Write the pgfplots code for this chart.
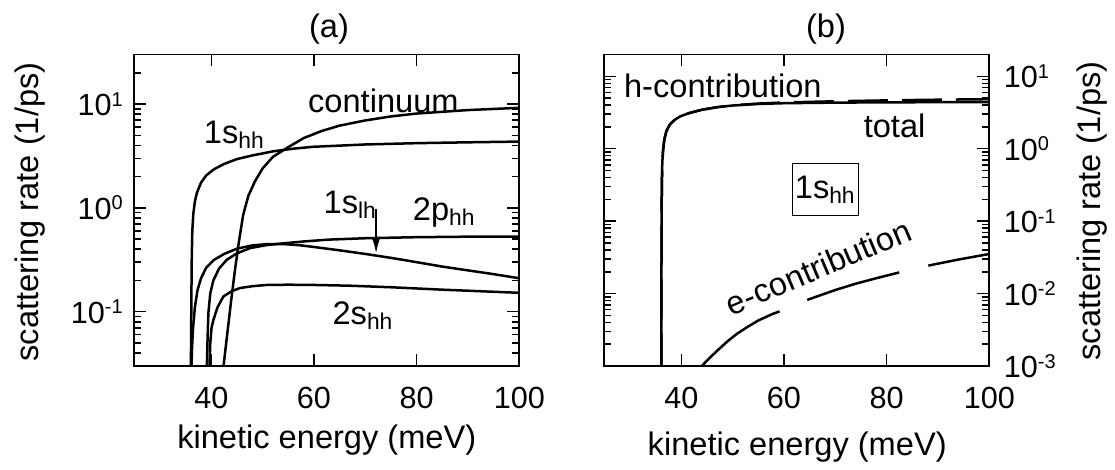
\documentclass[border=0pt]{standalone}
\usepackage{fontspec}
\setmainfont{Liberation Sans}
\usepackage{pgfplots}
\pgfplotsset{compat=1.18}
\usetikzlibrary{arrows.meta}

\newcommand{\chartfont}{\fontsize{16.3}{19.5}\selectfont}
\newcommand{\tickfont}{\fontsize{15.3}{18}\selectfont}
% small raised exponent, roughly top-aligned with the digits
\newcommand{\pw}[1]{10\raisebox{0.31em}{\fontsize{10}{10}\selectfont #1}}

\pgfplotsset{
  rate axis/.style={
    scale only axis, width=192.5pt, height=155.75pt,
    xmin=25, xmax=100,
    xtick={40,60,80,100}, xticklabels={40,60,80,100},
    axis line style={line width=0.9pt},
    major tick length=6pt, minor tick length=3.5pt,
    every tick/.style={line width=0.75pt, black},
    tick label style={font=\tickfont},
    xticklabel style={yshift=-6.9pt},
    no markers,
    cycle list={{black}},
    every axis plot/.append style={line width=1.25pt, black, line join=round},
  }
}

\begin{document}
\begin{tikzpicture}[font=\chartfont]
\useasboundingbox (0,0) rectangle (557.5pt,235pt);

% ---------------- (a) exciton channels ----------------
\begin{semilogyaxis}[rate axis, at={(67.15pt,52pt)}, anchor=south west,
  ymin=0.03, ymax=30,
  ytick={0.1,1,10},
  minor ytick={0.03,0.04,0.05,0.06,0.07,0.08,0.09,0.2,0.3,0.4,0.5,0.6,0.7,0.8,0.9,2,3,4,5,6,7,8,9,20},
  yticklabels={\pw{-1},\pw{0},\pw{1}},
  yticklabel style={xshift=-2.25pt}]
% 1s_hh
\addplot coordinates {(36.0,0.02) (36.1,0.1) (36.18,0.3) (36.3,0.6) (36.5,0.88) (36.8,1.15) (37.2,1.4) (38,1.75) (39,2.05) (40.5,2.35) (42.5,2.65) (45,2.95) (48,3.2) (52,3.5) (56,3.72) (60,3.88) (70,4.08) (80,4.2) (90,4.28) (100,4.35)};
% continuum
\addplot coordinates {(42.2,0.025) (43.0,0.055) (43.8,0.12) (44.6,0.25) (45.4,0.48) (46.2,0.85) (47.2,1.3) (48.5,1.8) (50,2.4) (52,3.1) (55,3.85) (58,4.7) (61.5,5.5) (65,6.2) (70,6.95) (75,7.6) (80,8.1) (90,8.75) (100,9.2)};
% 1s_lh
\addplot coordinates {(36.1,0.025) (36.25,0.045) (36.45,0.07) (36.8,0.11) (37.3,0.16) (38.0,0.21) (39.0,0.265) (40.5,0.315) (42.5,0.36) (45,0.405) (48,0.435) (51,0.448) (54,0.448) (57,0.438) (60,0.42) (65,0.39) (70,0.36) (75,0.33) (80,0.3) (85,0.272) (90,0.25) (95,0.23) (100,0.21)};
% 2p_hh
\addplot coordinates {(39.1,0.025) (39.25,0.05) (39.43,0.097) (39.8,0.15) (40.4,0.2) (41.5,0.26) (43.0,0.316) (45,0.365) (47.55,0.41) (51,0.44) (54,0.455) (58,0.475) (63,0.495) (70,0.51) (80,0.522) (90,0.528) (100,0.53)};
% 2s_hh
\addplot coordinates {(39.6,0.025) (39.8,0.05) (40.05,0.07) (40.4,0.083) (41.2,0.11) (42.35,0.14) (44,0.158) (45.6,0.169) (48,0.176) (50.8,0.181) (55,0.182) (60,0.181) (67,0.178) (75,0.172) (85,0.163) (100,0.152)};

\node[anchor=base] at (rel axis cs:0.647,0.814) {continuum};
\node[anchor=base] at (rel axis cs:0.260,0.715) {1s\textsubscript{hh}};
\node[anchor=base] at (rel axis cs:0.561,0.489) {1s\textsubscript{lh}};
\node[anchor=base] at (rel axis cs:0.805,0.468) {2p\textsubscript{hh}};
\node[anchor=base] at (rel axis cs:0.594,0.133) {2s\textsubscript{hh}};
\draw[-{Latex[length=8pt,width=4.5pt]}, line width=0.8pt]
  (rel axis cs:0.628,0.505) -- (rel axis cs:0.628,0.362);
\end{semilogyaxis}

% ---------------- (b) 1s_hh contributions ----------------
\begin{semilogyaxis}[rate axis, at={(302.15pt,52pt)}, anchor=south west,
  ymin=0.001, ymax=20,
  ytick={0.001,0.01,0.1,1,10},
  minor ytick={0.002,0.003,0.004,0.005,0.006,0.007,0.008,0.009,0.02,0.03,0.04,0.05,0.06,0.07,0.08,0.09,0.2,0.3,0.4,0.5,0.6,0.7,0.8,0.9,2,3,4,5,6,7,8,9},
  yticklabels={\pw{-3},\pw{-2},\pw{-1},\pw{0},\pw{1}},
  yticklabel pos=right, ytick pos=both,
  yticklabel style={xshift=3.75pt}]
% h-contribution
\addplot[dash pattern=on 20pt off 7pt] coordinates {(36.1,0.0008) (36.15,0.05) (36.2,0.3) (36.3,0.65) (36.45,0.95) (36.7,1.35) (37.1,1.75) (37.75,2.15) (38.7,2.5) (39.8,2.8) (41.5,3.1) (44,3.45) (47,3.75) (50,3.97) (55,4.2) (60,4.35) (70,4.52) (80,4.65) (90,4.75) (100,4.83)};
% total
\addplot coordinates {(36.1,0.0008) (36.15,0.05) (36.2,0.3) (36.3,0.65) (36.45,0.95) (36.7,1.35) (37.1,1.75) (37.75,2.15) (38.7,2.5) (39.8,2.8) (41.5,3.1) (44,3.45) (47,3.75) (50,3.95) (55,4.15) (60,4.25) (70,4.33) (80,4.37) (90,4.39) (100,4.4)};
% e-contribution
\addplot[dash pattern=on 48pt off 15pt] coordinates {(44,0.001) (45.7,0.00133) (47.4,0.00173) (49.1,0.00222) (50.85,0.00279) (53,0.0035) (55,0.00425) (57.7,0.0052) (60.5,0.00616) (63,0.0075) (66,0.0089) (70,0.0112) (74,0.0137) (78,0.0163) (82.6,0.0197) (88.1,0.0243) (94,0.0295) (100,0.0352)};

\node[anchor=base] at (rel axis cs:0.308,0.861) {h-contribution};
\node[anchor=base] at (rel axis cs:0.754,0.733) {total};
\node[draw, line width=0.6pt, minimum width=33pt, minimum height=25.8pt, inner sep=0pt]
  at (rel axis cs:0.574,0.566) {1s\textsubscript{hh}};
\node[rotate=23, inner sep=0pt] at (rel axis cs:0.556,0.318) {e-contribution};
\end{semilogyaxis}

% titles and axis labels
\node at (164.5pt,220.4pt) {(a)};
\node at (413pt,220.5pt) {(b)};
\node at (163.4pt,15pt) {kinetic energy (meV)};
\node at (398.6pt,11.5pt) {kinetic energy (meV)};
\node[rotate=90] at (15.2pt,129pt) {scattering rate (1/ps)};
\node[rotate=90] at (545.9pt,129.5pt) {scattering rate (1/ps)};
\end{tikzpicture}
\end{document}
